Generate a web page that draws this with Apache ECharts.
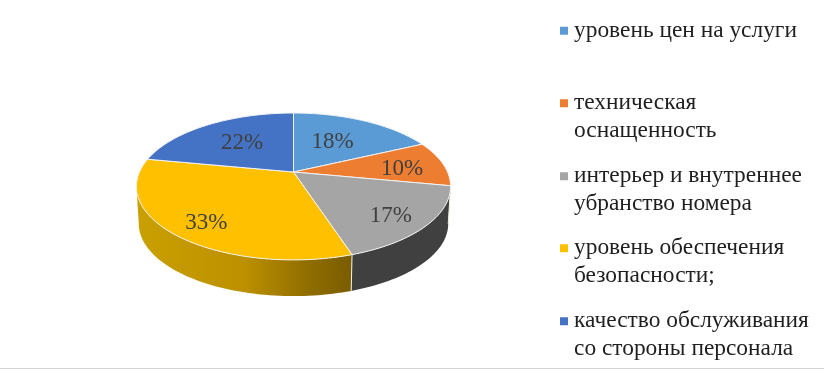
<!DOCTYPE html>
<html><head><meta charset="utf-8">
<style>html,body{margin:0;padding:0;background:#fff}#c{width:824px;height:369px}</style>
<script src="https://cdn.jsdelivr.net/npm/echarts@6/dist/echarts.min.js"></script>
</head><body><div id="c"></div>
<script>
const categories = ['уровень цен на услуги','техническая\nоснащенность','интерьер и внутреннее\nубранство номера','уровень обеспечения\nбезопасности;','качество обслуживания\nсо стороны персонала'];
const values = [18,10,17,33,22];
const faceColors = ['#5b9bd5','#ed7d31','#a5a5a5','#ffc000','#4472c4'];
const legendTops = [15,60,133,205,278];
const labelRadii = [0.57,0.71,0.78,0.78,0.58];
const labelNudgeX = [-4,2,-3,2.5,1];
const labelNudgeY = [1,3,3,4,0];

const apexX = 293.5, apexY = 172, radX = 154, radY = 70.6, persp = 0.197, depth = 37.5, baseScale = 0.985;
const total = values.reduce((a,b)=>a+b,0);
function project(deg, t){
  const r = deg*Math.PI/180, u = Math.sin(r)*t, v = -Math.cos(r)*t, d = 1-persp*v;
  return [radX*u/d, radY*v/d];
}
function arc(a0,a1,t,fn){
  const n = Math.max(2,Math.ceil(Math.abs(a1-a0)/1.5)), out=[];
  for(let i=0;i<=n;i++){ out.push(fn(project(a0+(a1-a0)*i/n,t))); }
  return out;
}
const topPt = p=>[apexX+p[0],apexY+p[1]];
const botPt = p=>[apexX+p[0]*baseScale,apexY+depth+p[1]*baseScale];
const tangent = Math.acos(-persp)*180/Math.PI;
const visFrom = tangent, visTo = 360-tangent;

const sideFill = [
  null,null,'#404040',
  {type:'linear',x:0,y:0,x2:1,y2:0,colorStops:[{offset:0,color:'#c9a000'},{offset:0.5,color:'#bd9000'},{offset:0.8,color:'#8f6d00'},{offset:1,color:'#7a5c00'}]},
  null
];
let acc=0;
const series = categories.map((name,i)=>{
  const a0 = acc/total*360; acc += values[i]; const a1 = acc/total*360;
  return {
    type:'custom', name, coordinateSystem:'none', silent:true, animation:false,
    itemStyle:{color:faceColors[i]},
    data:[values[i]],
    renderItem(){
      const children=[];
      const s0=Math.max(a0,visFrom), s1=Math.min(a1,visTo);
      if(s1>s0 && sideFill[i]){
        const pts=arc(s0,s1,1,topPt).concat(arc(s1,s0,1,botPt));
        children.push({type:'polygon',shape:{points:pts},style:{fill:sideFill[i],stroke:null}});
        const c=arc(s0,s0,1,topPt)[0], e=arc(s0,s0,1,botPt)[0];
        children.push({type:'polyline',shape:{points:[c,e]},style:{stroke:'#f4f0e4',lineWidth:1,fill:null}});
      }
      const face=[[apexX,apexY]].concat(arc(a0,a1,1,topPt));
      children.push({type:'polygon',shape:{points:face},style:{fill:faceColors[i],stroke:'#f2f2f2',lineWidth:1,lineJoin:'round'}});
      const lp=topPt(project((a0+a1)/2,labelRadii[i]));
      children.push({type:'text',z2:10,style:{x:lp[0]+labelNudgeX[i],y:lp[1]+labelNudgeY[i],text:values[i]+'%',align:'center',verticalAlign:'middle',fill:'#404040',font:'23px "Liberation Serif"'}});
      return {type:'group',children};
    }
  };
});
const legend = categories.map((name,i)=>({
  data:[{name,icon:'rect'}], left:560, top:legendTops[i], orient:'vertical', padding:0, itemWidth:8, itemHeight:8,
  selectedMode:false,
  formatter:n=>n.includes('\n')?'\n'+n:n,
  textStyle:{fontFamily:'Liberation Serif',fontSize:23.4,lineHeight:27.5,color:'#1f1f1f',padding:[4,0,0,1]}
}));
const chart = echarts.init(document.getElementById('c'),null,{renderer:'canvas'});
chart.setOption({
  animation:false, backgroundColor:'#ffffff', legend, series,
  graphic:[{type:'line',silent:true,shape:{x1:0,y1:368.5,x2:824,y2:368.5},style:{stroke:'#d4d4d4',lineWidth:1}}]
});
</script></body></html>
